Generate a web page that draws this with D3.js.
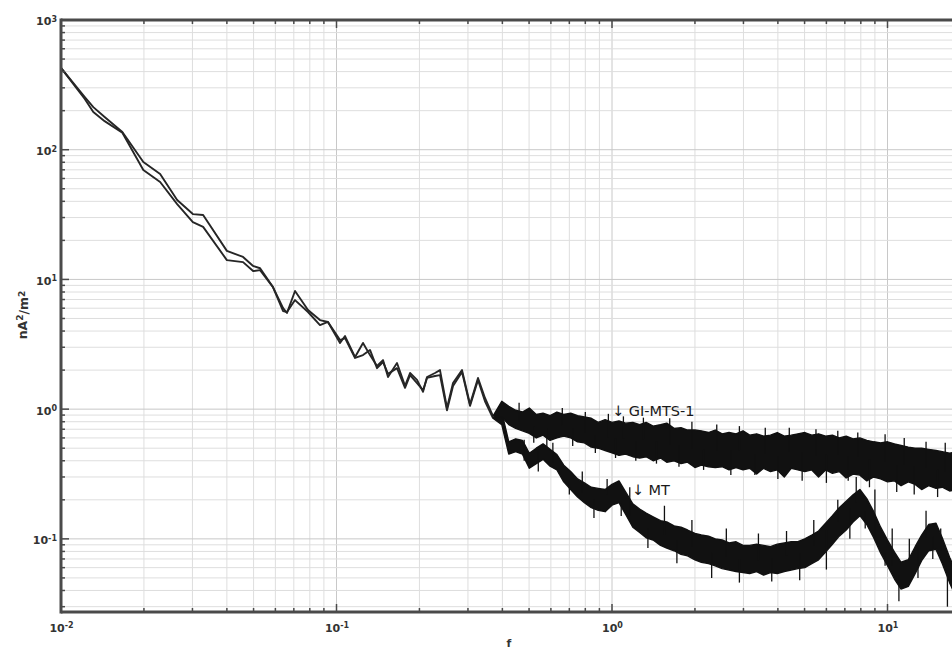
<!DOCTYPE html>
<html>
<head>
<meta charset="utf-8">
<title>Spectra</title>
<script src="https://cdn.jsdelivr.net/npm/d3@7"></script>
<style>
    body { margin: 0; background: #fff; }
    text { font-family: "DejaVu Sans", sans-serif; }
</style>
</head>
<body>
<script type="text/javascript">

    // low frequency part, both traces still thin lines
    var freqLow = [0.01, 0.0122, 0.0131, 0.0144, 0.0167, 0.0199, 0.0229, 0.0264, 0.0301, 0.0328,
        0.0400, 0.0458, 0.0498, 0.0528, 0.0588, 0.0640, 0.0661, 0.0707, 0.0788, 0.0871,
        0.0931, 0.1030, 0.1074, 0.1168, 0.1248, 0.1323, 0.1403, 0.1475, 0.1538, 0.1658,
        0.1773, 0.1849, 0.1960, 0.2061, 0.2131, 0.2278, 0.2375, 0.2518, 0.2648, 0.2855,
        0.3052, 0.3263, 0.3459, 0.3699];
    var giLow = [427, 255, 213, 179, 137, 80.4, 65.0, 40.9, 31.9, 31.4,
        16.6, 14.9, 12.7, 12.2, 8.73, 6.01, 5.51, 8.15, 5.81, 4.86,
        4.70, 3.24, 3.66, 2.52, 3.24, 2.61, 2.15, 2.39, 1.77, 2.27,
        1.51, 1.90, 1.68, 1.36, 1.77, 1.90, 2.00, 1.02, 1.59, 2.00,
        1.09, 1.74, 1.22, 0.885];
    var mtLow = [427, 246, 195, 166, 135, 69.7, 56.4, 38.1, 27.7, 25.4,
        14.1, 13.6, 11.6, 11.8, 8.73, 5.70, 5.61, 6.93, 5.61, 4.45,
        4.70, 3.41, 3.53, 2.48, 2.61, 2.86, 2.07, 2.31, 1.87, 2.07,
        1.46, 1.83, 1.59, 1.40, 1.74, 1.80, 1.83, 0.98, 1.51, 1.93,
        1.06, 1.68, 1.15, 0.853];

    // high frequency part: noisy band, upper and lower envelope
    var freqBand = [0.398, 0.422, 0.447, 0.473, 0.501, 0.531, 0.562, 0.596, 0.631, 0.668,
        0.708, 0.750, 0.794, 0.841, 0.891, 0.944, 1.00, 1.06, 1.12, 1.19,
        1.26, 1.33, 1.41, 1.50, 1.58, 1.68, 1.78, 1.88, 2.00, 2.11,
        2.24, 2.37, 2.51, 2.66, 2.82, 2.99, 3.16, 3.35, 3.55, 3.76,
        3.98, 4.22, 4.47, 4.73, 5.01, 5.31, 5.62, 5.96, 6.31, 6.68,
        7.08, 7.50, 7.94, 8.41, 8.91, 9.44, 10.0, 10.6, 11.2, 11.9,
        12.6, 13.3, 14.1, 15.0, 15.8, 16.8, 17.8];
    var giHi = [1.15, 1.05, 0.98, 0.95, 1.02, 0.91, 0.93, 0.89, 0.95, 0.91,
        0.93, 0.89, 0.87, 0.85, 0.79, 0.83, 0.79, 0.81, 0.78, 0.79,
        0.76, 0.79, 0.74, 0.76, 0.78, 0.71, 0.72, 0.69, 0.69, 0.68,
        0.66, 0.69, 0.645, 0.66, 0.645, 0.68, 0.63, 0.645, 0.62, 0.63,
        0.66, 0.62, 0.63, 0.645, 0.66, 0.63, 0.645, 0.62, 0.63, 0.60,
        0.62, 0.59, 0.60, 0.575, 0.56, 0.55, 0.56, 0.54, 0.525, 0.51,
        0.50, 0.50, 0.49, 0.48, 0.47, 0.457, 0.47];
    var giLo = [0.87, 0.76, 0.71, 0.68, 0.65, 0.60, 0.63, 0.575, 0.60, 0.62,
        0.60, 0.56, 0.55, 0.51, 0.50, 0.48, 0.46, 0.44, 0.45, 0.43,
        0.42, 0.43, 0.40, 0.42, 0.39, 0.40, 0.38, 0.39, 0.355, 0.37,
        0.36, 0.355, 0.36, 0.34, 0.355, 0.34, 0.35, 0.316, 0.35, 0.33,
        0.34, 0.30, 0.35, 0.34, 0.33, 0.34, 0.30, 0.34, 0.32, 0.33,
        0.295, 0.316, 0.31, 0.28, 0.30, 0.29, 0.275, 0.28, 0.257, 0.275,
        0.263, 0.24, 0.257, 0.245, 0.25, 0.234, 0.24];
    var mtHi = [0.95, 0.56, 0.59, 0.575, 0.457, 0.50, 0.54, 0.49, 0.447, 0.37,
        0.33, 0.29, 0.27, 0.25, 0.245, 0.24, 0.263, 0.28, 0.23, 0.186,
        0.17, 0.158, 0.148, 0.138, 0.135, 0.126, 0.123, 0.117, 0.11, 0.107,
        0.105, 0.10, 0.098, 0.093, 0.095, 0.089, 0.089, 0.091, 0.089, 0.087,
        0.091, 0.093, 0.095, 0.095, 0.10, 0.107, 0.115, 0.132, 0.151, 0.174,
        0.195, 0.219, 0.24, 0.204, 0.162, 0.123, 0.098, 0.079, 0.066, 0.069,
        0.087, 0.107, 0.129, 0.132, 0.102, 0.072, 0.055];
    var mtLo = [0.76, 0.45, 0.47, 0.45, 0.35, 0.38, 0.41, 0.363, 0.34, 0.275,
        0.24, 0.21, 0.19, 0.174, 0.166, 0.162, 0.182, 0.19, 0.155, 0.123,
        0.112, 0.102, 0.098, 0.089, 0.085, 0.081, 0.076, 0.074, 0.069, 0.066,
        0.0645, 0.062, 0.059, 0.0575, 0.056, 0.055, 0.054, 0.056, 0.0525, 0.055,
        0.054, 0.056, 0.0575, 0.059, 0.060, 0.0645, 0.069, 0.079, 0.091, 0.105,
        0.117, 0.135, 0.151, 0.129, 0.102, 0.078, 0.062, 0.049, 0.041, 0.043,
        0.054, 0.068, 0.081, 0.083, 0.0645, 0.046, 0.035];

    // isolated noise spikes sticking out of each band (tip frequency, tip value)
    var giSpikeF = [0.46, 0.52, 0.58, 0.66, 0.72, 0.80, 0.87, 0.97, 1.03, 1.10,
        1.22, 1.30, 1.45, 1.62, 1.75, 1.95, 2.15, 2.4, 2.7, 2.9,
        3.3, 3.6, 4.0, 4.4, 4.9, 5.5, 6.0, 6.6, 7.2, 7.8,
        8.6, 9.8, 10.8, 11.5, 12.5, 13.8, 15.2, 16.2];
    var giSpikeV = [1.12, 0.55, 0.50, 1.02, 0.52, 0.95, 0.46, 0.92, 0.42, 0.88,
        0.40, 0.86, 0.38, 0.85, 0.36, 0.80, 0.34, 0.76, 0.31, 0.74,
        0.31, 0.72, 0.29, 0.72, 0.28, 0.70, 0.27, 0.68, 0.28, 0.66,
        0.25, 0.64, 0.23, 0.60, 0.22, 0.56, 0.21, 0.55];
    var mtSpikeF = [0.48, 0.54, 0.61, 0.70, 0.78, 0.86, 0.96, 1.08, 1.16, 1.35,
        1.55, 1.72, 1.95, 2.3, 2.6, 2.9, 3.4, 3.8, 4.3, 4.8,
        5.4, 6.0, 6.6, 7.3, 7.7, 8.3, 9.0, 9.8, 10.4, 11.0,
        12.0, 12.9, 13.8, 14.6, 15.6, 16.5];
    var mtSpikeV = [0.58, 0.33, 0.55, 0.22, 0.33, 0.145, 0.29, 0.15, 0.25, 0.085,
        0.18, 0.065, 0.14, 0.05, 0.12, 0.046, 0.11, 0.047, 0.115, 0.048,
        0.14, 0.058, 0.20, 0.10, 0.30, 0.12, 0.24, 0.062, 0.12, 0.033,
        0.10, 0.05, 0.165, 0.07, 0.12, 0.03];

    var decadeExp = {'-2': '-2', '-1': '-1', '0': '0', '1': '1', '2': '2', '3': '3'};

    var W = 952, H = 650;
    var pL = 61, pT = 20, pB = 612, pR = 956.5;

    var svg = d3.select('body').append('svg')
        .attr('width', W)
        .attr('height', H);

    var x = d3.scaleLog().domain([0.01, 17.8]).range([pL, pR]);
    var y = d3.scaleLog().domain([0.0273, 1000]).range([pB, pT]);

    function isMajor(v) {
        var l = Math.log10(v);
        return Math.abs(l - Math.round(l)) < 1e-6;
    }

    var xTicks = x.ticks().filter(function(d) { return d <= 17.8; });
    var yTicks = y.ticks();

    // grid
    var grid = svg.append('g');
    grid.selectAll('.gx').data(xTicks).enter().append('line')
        .attr('x1', function(d) { return x(d); })
        .attr('x2', function(d) { return x(d); })
        .attr('y1', pT).attr('y2', pB)
        .attr('stroke', function(d) { return isMajor(d) ? '#c8c8c8' : '#dedede'; })
        .attr('stroke-width', 1);
    grid.selectAll('.gy').data(yTicks).enter().append('line')
        .attr('y1', function(d) { return y(d); })
        .attr('y2', function(d) { return y(d); })
        .attr('x1', pL).attr('x2', pR)
        .attr('stroke', function(d) { return isMajor(d) ? '#c8c8c8' : '#dedede'; })
        .attr('stroke-width', 1);

    svg.append('clipPath').attr('id', 'plotclip')
        .append('rect')
        .attr('x', pL).attr('y', pT)
        .attr('width', pR - pL).attr('height', pB - pT);

    var plot = svg.append('g').attr('clip-path', 'url(#plotclip)');

    var bis = d3.bisector(function(d) { return d; }).left;

    function series(freq, low, fb, hi, lo, sf, sv) {
        var lineData = freq.map(function(f, i) { return {f: f, v: low[i]}; });
        var n = freq.length - 1;
        var bandData = [{f: freq[n], hi: low[n], lo: low[n]}].concat(
            fb.map(function(f, i) { return {f: f, hi: hi[i], lo: lo[i]}; }));

        plot.append('path')
            .datum(lineData)
            .attr('fill', 'none')
            .attr('stroke', '#262626')
            .attr('stroke-width', 1.9)
            .attr('stroke-linejoin', 'round')
            .attr('d', d3.line()
                .x(function(d) { return x(d.f); })
                .y(function(d) { return y(d.v); }));

        plot.append('path')
            .datum(bandData)
            .attr('fill', '#111')
            .attr('stroke', '#111')
            .attr('stroke-width', 1.4)
            .attr('stroke-linejoin', 'round')
            .attr('d', d3.area()
                .x(function(d) { return x(d.f); })
                .y0(function(d) { return y(d.lo); })
                .y1(function(d) { return y(d.hi); }));

        // spikes run from the middle of the band out to the tip
        var spikes = sf.map(function(f, i) {
            var k = Math.min(Math.max(bis(fb, f), 0), fb.length - 1);
            return {f: f, v: sv[i], base: Math.sqrt(hi[k] * lo[k])};
        });
        plot.selectAll(null).data(spikes).enter().append('line')
            .attr('x1', function(d) { return x(d.f); })
            .attr('x2', function(d) { return x(d.f); })
            .attr('y1', function(d) { return y(d.base); })
            .attr('y2', function(d) { return y(d.v); })
            .attr('stroke', '#111')
            .attr('stroke-width', 1.3);
    }

    series(freqLow, mtLow, freqBand, mtHi, mtLo, mtSpikeF, mtSpikeV);
    series(freqLow, giLow, freqBand, giHi, giLo, giSpikeF, giSpikeV);

    // frame
    var frame = svg.append('g').attr('stroke', '#4a4a4a').attr('stroke-width', 3);
    frame.append('line').attr('x1', pL).attr('x2', pL).attr('y1', pT - 1.5).attr('y2', pB + 1.5);
    frame.append('line').attr('x1', pL).attr('x2', W).attr('y1', pB).attr('y2', pB);
    frame.append('line').attr('x1', pL).attr('x2', W).attr('y1', pT).attr('y2', pT);

    // tick marks, pointing inward
    var tk = svg.append('g').attr('stroke', '#4a4a4a').attr('stroke-width', 1.5);
    tk.selectAll('.ty').data(yTicks).enter().append('line')
        .attr('x1', pL)
        .attr('x2', function(d) { return pL + (isMajor(d) ? 8 : 4); })
        .attr('y1', function(d) { return y(d); })
        .attr('y2', function(d) { return y(d); });
    tk.selectAll('.tb').data(xTicks).enter().append('line')
        .attr('x1', function(d) { return x(d); })
        .attr('x2', function(d) { return x(d); })
        .attr('y1', pB)
        .attr('y2', function(d) { return pB - (isMajor(d) ? 8 : 4); });
    tk.selectAll('.tt').data(xTicks).enter().append('line')
        .attr('x1', function(d) { return x(d); })
        .attr('x2', function(d) { return x(d); })
        .attr('y1', pT)
        .attr('y2', function(d) { return pT + (isMajor(d) ? 8 : 4); });

    // decade labels as 10 with a raised exponent
    function addPower(sel) {
        sel.text(null);
        sel.append('tspan').text('10');
        sel.append('tspan')
            .attr('dy', '-0.45em')
            .style('font-size', '8px')
            .text(function(d) { return decadeExp[String(Math.round(Math.log10(d)))]; });
    }

    var yAxis = svg.append('g')
        .attr('transform', 'translate(' + pL + ',0)')
        .call(d3.axisLeft(y).tickValues([0.1, 1, 10, 100, 1000]).tickSize(0).tickPadding(4));
    var xAxis = svg.append('g')
        .attr('transform', 'translate(0,' + pB + ')')
        .call(d3.axisBottom(x).tickValues([0.01, 0.1, 1, 10]).tickSize(0).tickPadding(12));
    [yAxis, xAxis].forEach(function(a) {
        a.select('.domain').remove();
        a.selectAll('text')
            .attr('fill', '#333')
            .style('font-size', '11px')
            .style('font-weight', 'bold')
            .style('font-family', '"DejaVu Sans", sans-serif')
            .call(addPower);
    });
    yAxis.selectAll('text').attr('dy', '0.45em');

    // axis titles
    var yt = svg.append('text')
        .attr('transform', 'translate(27,315) rotate(-90)')
        .attr('text-anchor', 'middle')
        .attr('fill', '#333')
        .style('font-size', '12.5px')
        .style('font-weight', 'bold');
    yt.append('tspan').text('nA');
    yt.append('tspan').attr('dy', '-0.4em').style('font-size', '9px').text('2');
    yt.append('tspan').attr('dy', '0.4em').text('/m');
    yt.append('tspan').attr('dy', '-0.4em').style('font-size', '9px').text('2');

    svg.append('text')
        .attr('x', 509).attr('y', 647)
        .attr('text-anchor', 'middle')
        .attr('fill', '#333')
        .style('font-size', '11px')
        .style('font-weight', 'bold')
        .text('f');

    // trace labels
    svg.append('text')
        .attr('x', x(1.0)).attr('y', y(0.885))
        .attr('fill', '#1a1a1a')
        .style('font-size', '14.5px')
        .text('\u2193 GI-MTS-1');
    svg.append('text')
        .attr('x', x(1.18)).attr('y', y(0.218))
        .attr('fill', '#1a1a1a')
        .style('font-size', '14.5px')
        .text('\u2193 MT');

</script>
</body>
</html>
